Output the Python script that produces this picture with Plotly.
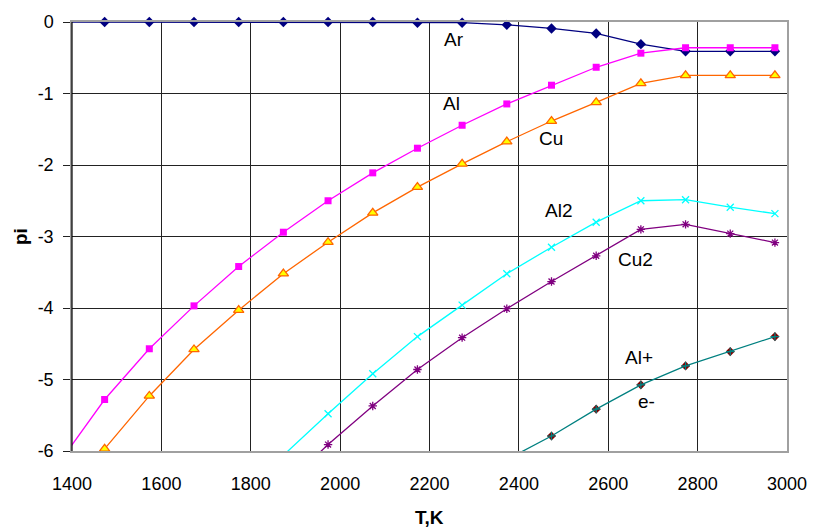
import plotly.graph_objects as go

# Temperatures (K)
T = [1373, 1473, 1573, 1673, 1773, 1873, 1973, 2073, 2173, 2273, 2373, 2473, 2573, 2673, 2773, 2873, 2973]

# log partial pressures of the species
p_Ar = [0.0, 0.0, 0.0, 0.0, 0.0, 0.0, 0.0, 0.0, -0.01, -0.01, -0.04, -0.09, -0.16, -0.31, -0.41, -0.41, -0.41]
p_Al = [-6.15, -5.28, -4.57, -3.97, -3.42, -2.94, -2.50, -2.11, -1.765, -1.444, -1.146, -0.884, -0.633, -0.436, -0.36, -0.36, -0.36]
p_Cu = [-6.85, -5.97, -5.23, -4.58, -4.03, -3.52, -3.08, -2.67, -2.31, -1.985, -1.674, -1.385, -1.124, -0.857, -0.747, -0.747, -0.747]
p_Al2 = [None, None, None, None, None, -6.06, -5.48, -4.92, -4.40, -3.96, -3.52, -3.15, -2.80, -2.50, -2.485, -2.59, -2.68]
p_Cu2 = [None, None, None, None, None, -6.50, -5.91, -5.37, -4.86, -4.415, -4.01, -3.63, -3.27, -2.90, -2.83, -2.96, -3.085]
p_Alp = [None, None, None, None, None, None, None, None, None, None, -6.12, -5.79, -5.415, -5.075, -4.81, -4.61, -4.40]
p_e = list(p_Alp)

x_ticks = [1400, 1600, 1800, 2000, 2200, 2400, 2600, 2800, 3000]
y_ticks = [0, -1, -2, -3, -4, -5, -6]

# species labels placed next to the curves
label_text = ["Ar", "Al", "Cu", "Al2", "Cu2", "Al+", "e-"]
label_T = [2255, 2250, 2472, 2488, 2662, 2668, 2686]
label_p = [-0.25, -1.14, -1.63, -2.64, -3.32, -4.69, -5.31]

FONT = "Liberation Sans, Arial, sans-serif"

fig = go.Figure()

fig.add_trace(go.Scatter(
    x=T, y=p_Ar, mode="lines+markers", cliponaxis=False,
    line=dict(color="#000080", width=1.3),
    marker=dict(symbol="diamond", size=8, color="#000080")))

fig.add_trace(go.Scatter(
    x=T, y=p_Al, mode="lines+markers",
    line=dict(color="#FF00FF", width=1.3),
    marker=dict(symbol="square", size=7, color="#FF00FF")))

fig.add_trace(go.Scatter(
    x=T, y=p_Cu, mode="lines+markers",
    line=dict(color="#FF6600", width=1.3),
    marker=dict(symbol="triangle-up", size=9, color="#FFFF00",
                line=dict(color="#FF6600", width=1.3))))

fig.add_trace(go.Scatter(
    x=T, y=p_Al2, mode="lines+markers",
    line=dict(color="#00FFFF", width=1.3),
    marker=dict(symbol="x-thin", size=7, color="#00FFFF",
                line=dict(color="#00FFFF", width=1.3))))

fig.add_trace(go.Scatter(
    x=T, y=p_Cu2, mode="lines+markers",
    line=dict(color="#800080", width=1.3),
    marker=dict(symbol="asterisk", size=7, color="#800080",
                line=dict(color="#800080", width=1.3))))

fig.add_trace(go.Scatter(
    x=T, y=p_Alp, mode="markers",
    marker=dict(symbol="diamond", size=7, color="#800000")))

fig.add_trace(go.Scatter(
    x=T, y=p_e, mode="lines+markers",
    line=dict(color="#008080", width=1.3),
    marker=dict(symbol="cross-thin", size=6, color="#008080",
                line=dict(color="#008080", width=1.2))))

for txt, tx, ty in zip(label_text, label_T, label_p):
    fig.add_annotation(x=tx, y=ty, text=txt, showarrow=False,
                       font=dict(family=FONT, size=19, color="black"))

# axis titles
fig.add_annotation(xref="paper", yref="paper", x=0.5, y=-0.155, yanchor="middle",
                   text="<b>T,K</b>", showarrow=False,
                   font=dict(family=FONT, size=19, color="black"))
fig.add_annotation(xref="paper", yref="paper", x=-0.072, xanchor="center", y=0.5,
                   text="<b>pi</b>", textangle=-90, showarrow=False,
                   font=dict(family=FONT, size=19, color="black"))

fig.update_layout(
    width=819, height=528,
    margin=dict(l=72, r=27, t=15, b=77),
    paper_bgcolor="white", plot_bgcolor="white",
    showlegend=False,
    font=dict(family=FONT, size=18, color="black"),
    xaxis=dict(range=[1400, 3000], tickvals=x_ticks, ticktext=[str(v) for v in x_ticks],
               showgrid=True, gridcolor="#222222", gridwidth=1,
               showline=True, linecolor="#A0A0A0", linewidth=1.5, mirror=True,
               ticks="", ticklabelstandoff=16, zeroline=False),
    yaxis=dict(range=[-6, 0], tickvals=y_ticks, ticktext=[str(v) for v in y_ticks],
               showgrid=True, gridcolor="#222222", gridwidth=1,
               showline=True, linecolor="#A0A0A0", linewidth=1.5, mirror=True,
               ticks="outside", ticklen=7, tickcolor="#222222",
               ticklabelstandoff=6, zeroline=False),
)

# left axis line drawn black over the grey frame
fig.add_shape(type="line", xref="paper", yref="paper", x0=0, x1=0, y0=0, y1=1,
              line=dict(color="black", width=1.2))

fig.write_html("out.html")
